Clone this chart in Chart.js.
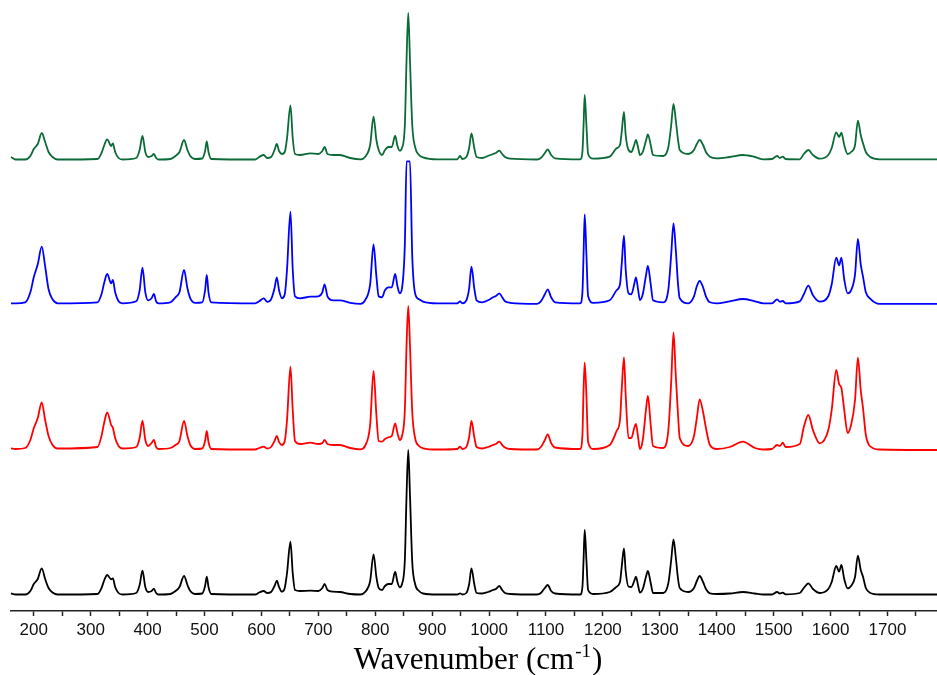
<!DOCTYPE html>
<html>
<head>
<meta charset="utf-8">
<script src="https://cdn.jsdelivr.net/npm/chart.js@4.4.1/dist/chart.umd.min.js"></script>
<style>
  html, body { margin: 0; padding: 0; background: #fff; }
  #wrap { width: 937px; height: 675px; }
</style>
</head>
<body>
<div id="wrap"><canvas id="spec" width="937" height="675"></canvas></div>
<script>
// wavenumbers (cm-1) shared by all four spectra
const wavenumbers = [
  160, 168, 185, 194, 200, 207, 214, 220, 226, 233, 242,
  312, 319, 324, 329, 336, 339, 343, 349, 356,
  380, 386, 391, 396, 401, 407, 411, 415, 419,
  440, 449, 456, 464, 470, 475, 484, 496, 501, 504, 507, 512,
  589, 596, 604, 610, 617, 623, 627, 631, 636, 641, 645, 651, 655, 659, 668,
  686, 700, 707, 711, 716, 726, 738, 756, 774,
  782, 791, 797, 802, 806, 812, 817, 823, 829, 835, 839, 843, 847, 852, 855, 858, 861, 865, 870, 877, 884,
  909, 944, 949, 953, 960, 965, 969, 974, 978, 988, 998, 1007, 1012, 1018, 1023, 1028, 1037,
  1084, 1091, 1098, 1103, 1109, 1116, 1160, 1164, 1166, 1168, 1171, 1174, 1183,
  1212, 1224, 1230, 1233, 1237, 1240, 1245, 1250, 1255, 1258, 1262, 1265, 1270, 1276, 1279, 1284, 1288,
  1306, 1315, 1320, 1324, 1328, 1332, 1335, 1350, 1360, 1365, 1370, 1376, 1381, 1388, 1400,
  1423, 1446, 1467, 1482, 1497, 1506, 1511, 1516, 1521, 1546, 1553, 1561, 1569, 1581,
  1596, 1602, 1610, 1615, 1619, 1624, 1630, 1636, 1643, 1648, 1653, 1657, 1662, 1669, 1686, 1787
];

// intensities (arb. units), one list per spectrum, bottom to top
const blackSpec = [
  1.7, 0.5, 0.5, 4, 11, 16, 26.7, 16, 7, 2.5, 0.5,
  1, 7, 15, 20, 15.7, 16.7, 8, 2, 0.5,
  2, 10, 24.3, 8, 3, 4, 6.3, 2, 0.5,
  1, 4, 8, 19, 10, 4, 1, 1.5, 9, 18.3, 8, 1,
  0.5, 2.5, 4, 2, 3, 9, 14.3, 8, 3.3, 7, 22, 53.3, 22, 5, 4,
  4.3, 4, 7, 11, 5, 3.3, 3, 1, 0.5,
  3, 14, 40.7, 18, 7, 5, 9, 11, 11, 23.3, 13, 7.7, 11, 35, 100, 145, 100, 33, 11, 4, 1.5,
  0.5, 0.5, 1.7, 0.5, 2, 11, 26.7, 11, 2, 1.5, 3, 5, 6, 9, 5, 2, 1,
  0.5, 2, 7, 10, 4, 1.5, 0.5, 8, 35, 65, 35, 5, 1,
  3, 8.3, 13, 28, 46.7, 24, 8.3, 8, 14, 18.3, 9, 2.3, 6, 19, 24, 12, 2,
  2, 12, 35, 55.7, 38, 16, 7, 3, 7, 14, 19, 13, 6, 1.7, 1,
  1.5, 3, 1.5, 0.5, 0.5, 3, 1.5, 2.3, 0.7, 2, 7, 11.7, 6, 2,
  6, 13, 29, 23.3, 30, 16, 6.7, 9, 18, 39.3, 25, 18.3, 7, 2.3, 0.5, 0.5
];
const redSpec = [
  1.7, 1, 2, 10, 21.7, 32, 47.7, 30, 14, 5, 1.5,
  3, 14, 28, 37.7, 25, 22.3, 12, 4, 1.5,
  3, 12, 29.3, 10, 4, 7, 10, 3, 1,
  2, 5, 9, 29, 14, 5, 1, 1.5, 9, 19, 8, 1,
  0.5, 2, 3.3, 1.5, 3, 9, 14, 8, 5, 9, 30, 83.3, 40, 9, 6,
  7.3, 6, 7, 10, 6, 5, 5, 2, 0.7,
  4, 25, 79, 35, 9, 8.3, 11, 12.7, 14, 26.7, 17, 10, 14, 40, 105, 144, 105, 38, 12, 4, 1.7,
  0.5, 1, 3.3, 1, 3, 13, 29, 13, 3, 1.5, 3, 5, 6, 8.3, 5, 2.5, 1,
  0.5, 3, 10, 15.7, 7, 2.5, 1, 15, 60, 87.3, 55, 8, 1,
  5, 19, 30, 60, 92.7, 55, 12, 12, 22, 26, 12, 1, 10, 42, 54, 25, 4,
  2, 20, 68, 117.7, 75, 35, 12, 4, 14, 32, 50.7, 38, 22, 5, 1,
  3, 8.3, 2, 0.5, 1, 5, 4, 7.3, 3, 6, 23, 35, 20, 6.7,
  20, 40, 80, 66, 62, 40, 17, 25, 50, 92.3, 60, 42, 15, 4, 0.5, 0
];
const blueSpec = [
  1, 1, 2, 12, 27, 40, 57.6, 38, 15, 5, 1,
  2, 10, 22, 30.3, 21, 24.3, 12, 3, 1,
  3, 14, 36.6, 12, 4, 6, 10.3, 3, 1,
  2, 7, 12, 34.3, 16, 6, 1.5, 2, 14, 29.3, 12, 2,
  1, 3, 6, 2.5, 5, 16, 27, 14, 6, 10, 35, 92.6, 35, 8, 6,
  7.6, 8, 12, 20, 8, 4, 4, 1.5, 0.5,
  4, 20, 60, 28, 8, 7, 14, 17, 17, 30.3, 18, 11, 16, 60, 143, 143, 143, 48, 11, 5, 2.7,
  1, 1, 3, 1, 4, 16, 37.6, 16, 4, 2, 4, 7, 8.3, 11, 7, 3, 1.5,
  0.5, 3, 10, 15, 7, 2, 1, 12, 50, 90, 50, 8, 1.5,
  4, 14, 20, 40, 68.6, 35, 11, 10, 20, 27, 14, 4.3, 10, 30, 38.3, 20, 4,
  2, 15, 50, 81, 55, 20, 6, 1, 8, 18, 23.3, 17, 8, 2, 1,
  3, 5.3, 3, 1, 1, 5, 2.5, 3.3, 1, 3, 10, 18.6, 9, 2.7,
  8, 20, 46.6, 39, 46.6, 25, 11, 14, 30, 65.3, 40, 27.6, 12, 6, 0.5, 0.5
];
const greenSpec = [
  3, 0.5, 0.5, 4, 11, 16, 27, 18, 8, 3, 0.5,
  1, 7, 15, 20.7, 14, 16.7, 8, 2, 0.5,
  2, 10, 24, 8, 3, 4, 6, 2, 0.5,
  1, 4, 8, 20, 10, 4, 1, 1.5, 9, 18.7, 8, 1,
  0.5, 3, 5, 2, 3, 10, 16, 9, 6, 8, 22, 54.7, 22, 6, 5,
  6.7, 6, 9, 13, 6, 5, 5, 2, 0.7,
  3, 15, 43.3, 20, 10, 5, 10, 13, 13, 24.3, 14, 9.3, 12, 35, 100, 147, 100, 35, 13, 5, 2.7,
  0.7, 0.7, 4, 1, 3, 12, 26.7, 12, 3, 2, 4, 6, 7, 9.3, 6, 3, 1.3,
  0.5, 2, 7, 10.7, 5, 1.7, 0.7, 8, 35, 65, 35, 6, 1.3,
  3.3, 11.7, 15, 28, 48, 25, 10, 8, 15, 20, 12, 5, 8, 20, 25.7, 15, 5,
  4, 13, 35, 56, 40, 20, 10, 6, 10, 16, 20, 15, 8, 3.3, 1.7,
  3, 5, 3, 0.7, 1, 4, 2, 3.3, 1, 0.7, 6, 10, 5, 1.3,
  5, 12, 27.7, 23, 27.3, 15, 6, 8, 15, 39.3, 25, 16.7, 8, 3.3, 0.7, 0.7
];

const seriesLists = [blackSpec, redSpec, blueSpec, greenSpec];
const seriesColors = ['#000000', '#ff0000', '#0000ff', '#0b6b37'];
const seriesOffsets = [16, 161, 306.7, 451];

const xTicks = { min: 160, max: 1787, step: 50 };

const axisTitle = {
  id: 'axisTitle',
  afterDraw(chart) {
    const c = chart.ctx;
    const base = 669;
    const main = 'Wavenumber (cm';
    const sup = '-1';
    const close = ')';
    c.save();
    c.fillStyle = '#000';
    c.textBaseline = 'alphabetic';
    c.textAlign = 'left';
    const bigFont = '31px "Liberation Serif", "Times New Roman", serif';
    const supFont = '19px "Liberation Serif", "Times New Roman", serif';
    c.font = bigFont;
    const wMain = c.measureText(main).width;
    const wClose = c.measureText(close).width;
    c.font = supFont;
    const wSup = c.measureText(sup).width;
    let x = 478 - (wMain + wSup + 2 + wClose) / 2;
    c.font = bigFont;
    c.fillText(main, x, base);
    x += wMain + 1;
    c.font = supFont;
    c.fillText(sup, x, base - 12);
    x += wSup + 1;
    c.font = bigFont;
    c.fillText(close, x, base);
    c.restore();
  }
};

const datasets = seriesLists.map(function (list, i) {
  return {
    data: list.map(function (v, j) { return { x: wavenumbers[j], y: v + seriesOffsets[i] }; }),
    borderColor: seriesColors[i],
    borderWidth: 1.8,
    pointRadius: 0,
    cubicInterpolationMode: 'monotone',
    fill: false,
    clip: false,
  };
});

new Chart(document.getElementById('spec'), {
  type: 'line',
  data: { datasets: datasets },
  plugins: [axisTitle],
  options: {
    responsive: false,
    animation: false,
    devicePixelRatio: 1,
    layout: { padding: { left: 11, right: 0, top: 0, bottom: 0 } },
    plugins: { legend: { display: false }, tooltip: { enabled: false } },
    scales: {
      x: {
        type: 'linear',
        min: xTicks.min,
        max: xTicks.max,
        afterFit: function (scale) { scale.height = 64; },
        border: { display: true, color: '#222', width: 1.5 },
        grid: { drawOnChartArea: false, drawTicks: true, tickLength: 5, color: '#222', tickWidth: 1.5 },
        ticks: {
          stepSize: xTicks.step,
          includeBounds: false,
          maxRotation: 0,
          autoSkip: false,
          padding: 4,
          color: '#111',
          font: { family: '"Liberation Sans", Arial, sans-serif', size: 17 },
          callback: function (v) { return v % 100 === 0 ? String(v) : ''; }
        }
      },
      y: { display: false, min: 0, max: 611 }
    }
  }
});
</script>
</body>
</html>
